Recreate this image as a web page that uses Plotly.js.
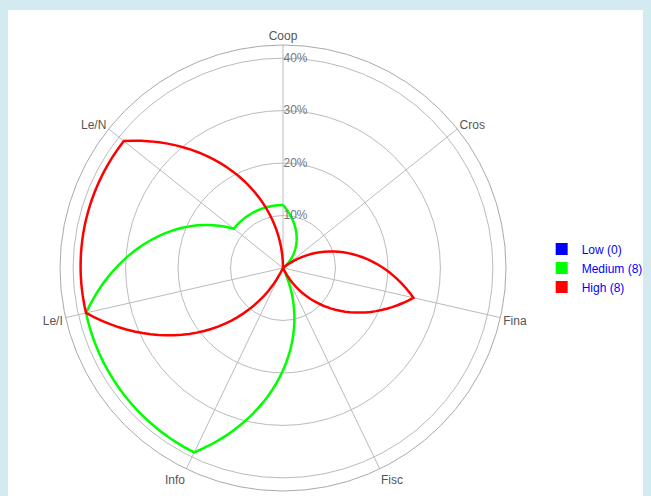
<!DOCTYPE html>
<html><head>
<script src="https://cdn.plot.ly/plotly-3.0.1.min.js"></script>
<style>
body{margin:0;background:#d4eaf1;}
#chart{position:absolute;left:8px;top:10px;width:635px;height:486px;background:#fff;}
</style>
</head><body>
<div id="chart"></div>
<script>
const categories = ['Coop', 'Cros', 'Fina', 'Fisc', 'Info', 'Le/I', 'Le/N'];
const lowValues = [0, 0, 0, 0, 0, 0, 0];
const mediumValues = [12, 0, 0, 0, 39, 38.5, 12];
const highValues = [0, 0, 25.5, 0, 0, 38.5, 38.8];
const seriesNames = ['Low (0)', 'Medium (8)', 'High (8)'];
const seriesColors = ['#0000ff', '#00ff00', '#ff0000'];
const seriesValues = [lowValues, mediumValues, highValues];

const step = 360 / categories.length;
const catAngles = categories.map((c, i) => i * step);

// the radial curve: r goes linearly with angle between neighbouring categories
function radialPath(vals) {
    const n = vals.length, r = [], th = [], k = 30;
    for (let i = 0; i < n; i++) {
        const a = vals[i], b = vals[(i + 1) % n];
        for (let j = 0; j < k; j++) {
            const t = j / k;
            r.push(a + (b - a) * t);
            th.push(catAngles[i] + t * step);
        }
    }
    r.push(r[0]); th.push(th[0]);
    return { r, th };
}

const data = [];
seriesValues.forEach((vals, i) => {
    const c = radialPath(vals);
    data.push({
        type: 'scatterpolar', r: c.r, theta: c.th,
        mode: 'lines', line: { color: seriesColors[i], width: 2.5 },
        showlegend: false, visible: i !== 0, hoverinfo: 'skip'
    });
    data.push({
        type: 'barpolar', r: [null], theta: [0], name: seriesNames[i],
        marker: { color: seriesColors[i] }, showlegend: true
    });
});

const layout = {
    width: 635, height: 486,
    margin: { l: 52, r: 137, t: 35, b: 5, autoexpand: false },
    paper_bgcolor: '#fff',
    font: { family: 'Liberation Sans, Arial, sans-serif', size: 12, color: '#555' },
    polar: {
        domain: { x: [0, 1], y: [0, 1] },
        bgcolor: '#fff',
        angularaxis: {
            direction: 'clockwise', rotation: 90, type: 'linear', thetaunit: 'degrees',
            tickvals: catAngles, ticktext: categories,
            gridcolor: '#bbb', linecolor: '#aaa', showline: true, ticks: '',
            tickfont: { color: '#555', size: 12 }
        },
        radialaxis: {
            range: [0, 42.5], tickvals: [10, 20, 30, 40], ticktext: ['10%', '20%', '30%', '40%'],
            angle: 90, tickangle: 90, gridcolor: '#bbb', showline: false, ticks: '',
            tickfont: { color: '#777', size: 12 }
        }
    },
    legend: { x: 1.08, y: 0.5, yanchor: 'middle', font: { color: '#0000ff', size: 12 }, itemwidth: 20, tracegroupgap: 0 },
    showlegend: true
};

Plotly.newPlot('chart', data, layout, { displayModeBar: false, staticPlot: true });
</script>
</body></html>
